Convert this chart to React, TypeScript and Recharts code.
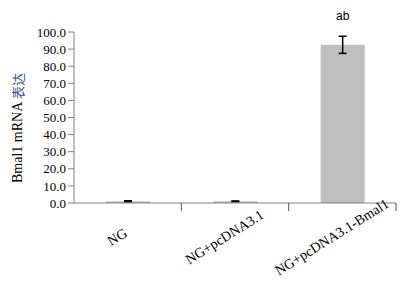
import React from 'react';
import { BarChart, Bar, XAxis, YAxis, ErrorBar, LabelList } from 'recharts';

const groups = ['NG', 'NG+pcDNA3.1', 'NG+pcDNA3.1-Bmal1'];
const expression = [1.0, 1.0, 92.5];
const errors = [0.3, 0.2, 5.0];
const marks = ['', '', 'ab'];
const yTicks = [0, 10, 20, 30, 40, 50, 60, 70, 80, 90, 100];

const data = groups.map((g, i) => ({ name: g, value: expression[i], err: errors[i], mark: marks[i] }));

const font = '"Liberation Serif", "Times New Roman", serif';

const XTick = (props: any) => {
  const { x, y, payload } = props;
  const half = payload && payload.offset ? payload.offset : 53.5;
  const tx = x - 8;
  const ty = y + 38;
  return (
    <g>
      <line x1={x + half} y1={y} x2={x + half} y2={y + 8} stroke="#555" strokeWidth={1} />
      <text
        x={tx}
        y={ty}
        textAnchor="middle"
        transform={`rotate(-32, ${tx}, ${ty})`}
        fontFamily={font}
        fontSize={14}
        fill="#000"
      >
        {payload.value}
      </text>
    </g>
  );
};

const YLabel = () => (
  <text
    x={17}
    y={128}
    textAnchor="middle"
    dominantBaseline="central"
    transform="rotate(-90, 17, 128)"
    fontFamily={font}
    fontSize={14}
    fill="#000"
  >
    <tspan>Bmal1 mRNA </tspan>
    <tspan fill="#2f4f8f" fontFamily='"Noto Sans CJK SC", sans-serif' fontSize={13}>表达</tspan>
  </text>
);

const MarkLabel = (props: any) => {
  const { x, y, width, value } = props;
  if (!value) return null;
  return (
    <text x={x + width / 2} y={y - 25} textAnchor="middle" fontFamily='"Liberation Sans", Arial, sans-serif' fontSize={12} fill="#000">
      {value}
    </text>
  );
};

export default function App() {
  return (
    <div style={{ position: 'absolute', left: 0, top: 0, background: '#fff' }}>
      <BarChart width={404} height={281} data={data} margin={{ top: 32, right: 8, left: 0, bottom: 0 }}>
        <XAxis
          dataKey="name"
          height={78}
          stroke="#808080"
          tickLine={false}
          tickSize={0}
          tickMargin={0}
          tick={<XTick />}
          interval={0}
        />
        <YAxis
          width={74}
          domain={[0, 100]}
          ticks={yTicks}
          tickFormatter={(v: number) => v.toFixed(1)}
          stroke="#808080"
          tickSize={6}
          tick={{ fill: '#000', fontFamily: font, fontSize: 13 }}
          interval={0}
          label={<YLabel />}
        />
        <Bar dataKey="value" fill="#bfbfbf" barSize={44} isAnimationActive={false}>
          <ErrorBar dataKey="err" width={4} stroke="#000" strokeWidth={1.5} />
          <LabelList dataKey="mark" content={<MarkLabel />} />
        </Bar>
      </BarChart>
    </div>
  );
}
